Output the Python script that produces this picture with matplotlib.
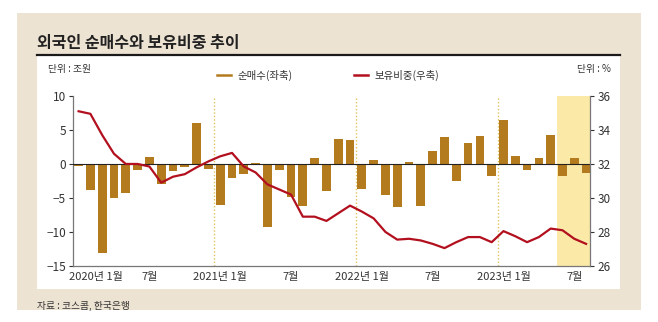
import matplotlib
matplotlib.use('Agg')
import matplotlib.pyplot as plt
from matplotlib.patches import Rectangle
from matplotlib.lines import Line2D
from matplotlib.transforms import ScaledTranslation

plt.rcParams['font.family'] = ['Liberation Sans Narrow', 'Noto Sans CJK KR', 'DejaVu Sans']

# 2020-01 .. 2023-08, monthly
months = list(range(44))
net_buy = [-0.3, -3.8, -13.1, -5.0, -4.2, -0.9, 1.0, -2.9, -1.1, -0.5, 6.0, -0.7,
           -6.0, -2.1, -1.5, 0.1, -9.2, -0.9, -4.9, -6.2, 0.9, -4.0, 3.7, 3.5,
           -3.7, 0.6, -4.6, -6.4, 0.3, -6.2, 1.9, 3.9, -2.5, 3.1, 4.1, -1.8,
           6.5, 1.1, -0.9, 0.9, 4.3, -1.75, 0.9, -1.3]
share = [35.1, 34.95, 33.7, 32.6, 32.0, 32.0, 31.85, 30.9, 31.25, 31.4, 31.8, 32.15,
         32.45, 32.65, 31.85, 31.5, 30.8, 30.5, 30.2, 28.9, 28.9, 28.65, 29.1, 29.55,
         29.2, 28.8, 28.0, 27.55, 27.6, 27.5, 27.3, 27.05, 27.4, 27.7, 27.7, 27.4,
         28.05, 27.75, 27.4, 27.7, 28.2, 28.1, 27.6, 27.3]
tick_pos = [0, 6, 12, 18, 24, 30, 36, 42]
tick_labels = ['2020년 1월', '7월', '2021년 1월', '7월', '2022년 1월', '7월', '2023년 1월', '7월']
year_marks = [11.5, 23.5, 35.5]

bar_color = '#B47A1E'
line_color = '#B2101E'
txt = '#333333'

fig = plt.figure(figsize=(6.58, 3.22), dpi=100)
fig.patches.append(Rectangle((0.0258, 0.0373), 0.948, 0.922, transform=fig.transFigure,
                             facecolor='#EDE3D2', edgecolor='none', zorder=-2))
fig.patches.append(Rectangle((0.0562, 0.1025), 0.886, 0.7236, transform=fig.transFigure,
                             facecolor='white', edgecolor='none', zorder=-1))
fig.lines.append(Line2D([0.0562, 0.9422], [0.829, 0.829], transform=fig.transFigure,
                        color='#1a1a1a', linewidth=1.6))

fig.text(0.056, 0.868, '외국인 순매수와 보유비중 추이', fontsize=11.5, fontweight='bold',
         color='#222222', va='center', family=['Noto Sans CJK KR'])
fig.text(0.073, 0.786, '단위 : 조원', fontsize=7, color=txt, va='center')
fig.text(0.928, 0.786, '단위 : %', fontsize=7, color=txt, va='center', ha='right')
fig.text(0.056, 0.05, '자료 : 코스콤, 한국은행', fontsize=7, color=txt, va='center')

ax = fig.add_axes([0.111, 0.174, 0.786, 0.528])
ax.patch.set_alpha(0)
ax.bar(months, net_buy, width=0.74, color=bar_color, zorder=3)
ax.axhline(0, color='#222222', linewidth=0.8, zorder=4)
for xm in year_marks:
    ax.axvline(xm, color='#E2C25A', linestyle=(0, (1, 1.5)), linewidth=1.0, zorder=1)
ax.axvspan(40.5, 43.6, color='#FBE9A8', zorder=0, linewidth=0)

ax.set_xlim(-0.47, 43.35)
ax.set_ylim(-15, 10)
ax.set_yticks([10, 5, 0, -5, -10, -15])
ax.set_xticks(tick_pos)
ax.set_xticklabels(tick_labels)
ax.tick_params(axis='x', length=0, labelsize=8, colors=txt, pad=4)
ax.tick_params(axis='y', length=3, labelsize=8.5, colors=txt, width=0.8, pad=2)
first = ax.get_xticklabels()[0]
first.set_horizontalalignment('left')
first.set_transform(first.get_transform() + ScaledTranslation(-10 / 100, 0, fig.dpi_scale_trans))
for s in ['top', 'right']:
    ax.spines[s].set_visible(False)
for s in ['left', 'bottom']:
    ax.spines[s].set_color('#777777')
    ax.spines[s].set_linewidth(0.9)

ax2 = ax.twinx()
ax2.plot(months, share, color=line_color, linewidth=1.6, zorder=5)
ax2.set_ylim(26, 36)
ax2.set_yticks([26, 28, 30, 32, 34, 36])
ax2.tick_params(axis='y', length=3, labelsize=8.5, colors=txt, width=0.8, pad=2)
for s in ['top', 'left', 'bottom']:
    ax2.spines[s].set_visible(False)
ax2.spines['right'].set_color('#777777')
ax2.spines['right'].set_linewidth(0.9)

handles = [Line2D([0], [0], color=bar_color, linewidth=1.8),
           Line2D([0], [0], color=line_color, linewidth=1.8)]
fig.legend(handles, ['순매수(좌축)', '보유비중(우축)'], loc='center', ncol=2,
           bbox_to_anchor=(0.4985, 0.765), frameon=False, fontsize=7.5,
           handlelength=1.4, handletextpad=0.6, columnspacing=5.85,
           labelcolor=txt)

fig.savefig('out.png', dpi=100)
